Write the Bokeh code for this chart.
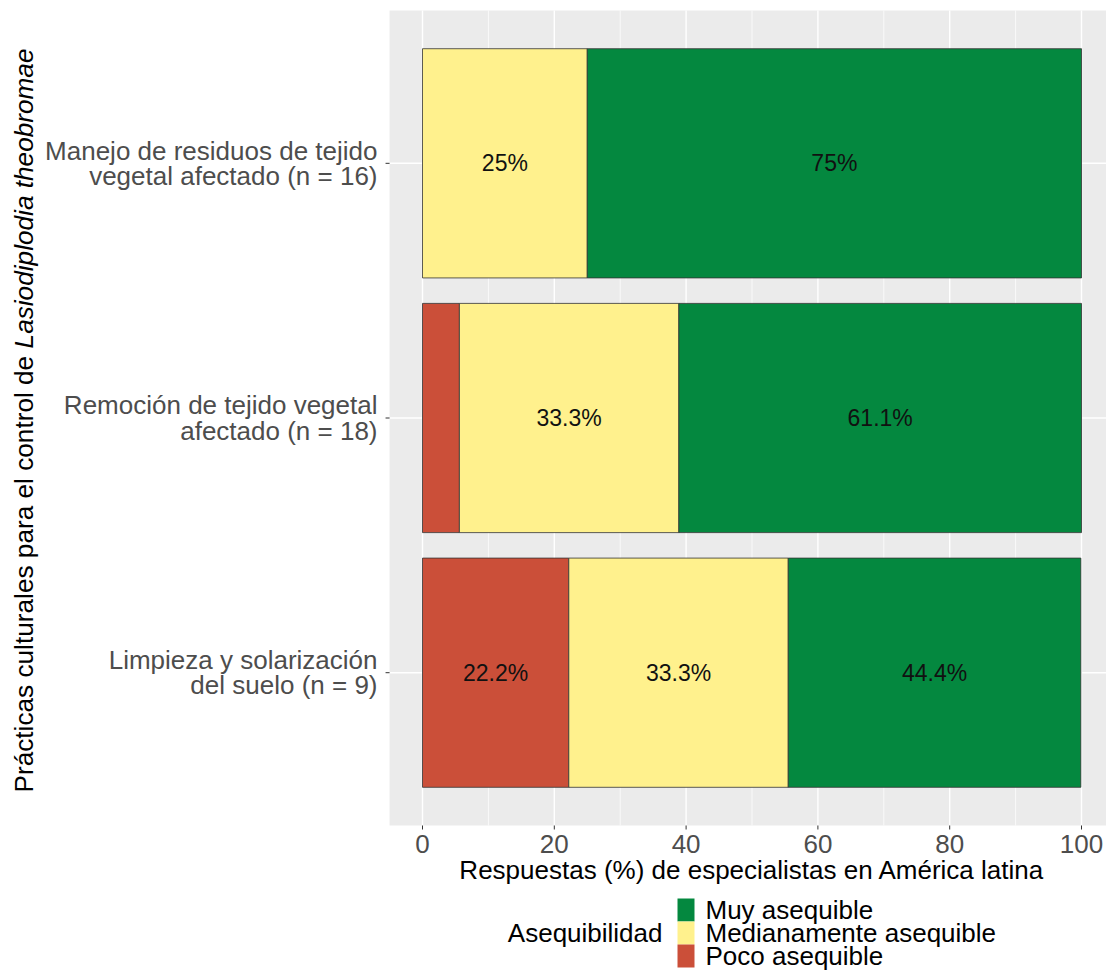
import math
from bokeh.plotting import figure
from bokeh.models import Range1d, ColumnDataSource
from bokeh.core.properties import value
from bokeh.embed import file_html
from bokeh.resources import INLINE

# ---------------- data ----------------
categorias = ["Manejo de residuos de tejido\nvegetal afectado (n = 16)",
              "Remoción de tejido vegetal\nafectado (n = 18)",
              "Limpieza y solarización\ndel suelo (n = 9)"]
poco = [0.0, 5.6, 22.2]
medianamente = [25.0, 33.3, 33.3]
muy = [75.0, 61.1, 44.4]
niveles = ["Muy asequible", "Medianamente asequible", "Poco asequible"]
colores = ["#04883F", "#FFF18D", "#CB4F39"]
x_major = [0, 20, 40, 60, 80, 100]
x_minor = [10, 30, 50, 70, 90]
x_title = "Respuestas (%) de especialistas en América latina"
y_title_normal = "Prácticas culturales para el control de"
y_title_italic = "Lasiodiplodia theobromae"
legend_title = "Asequibilidad"

FONT = "Liberation Sans"

# ---------------- layout (pixel <-> data) ----------------
W, H = 1106, 970
IMG_X0 = 422.0          # pixel of x = 0
PPX = 6.59              # pixels per x unit
n = len(categorias)
ypos = [n - i for i in range(n)]
y_lo, y_hi = min(ypos) - 0.6, max(ypos) + 0.6
PANEL_TOP, PANEL_BOTTOM = 10.0, 825.0
PPY = (PANEL_BOTTOM - PANEL_TOP) / (y_hi - y_lo)
Y_TOP = y_hi + PANEL_TOP / PPY


def dx(img_x):
    return (img_x - IMG_X0) / PPX


def dy(img_y):
    return Y_TOP - img_y / PPY


p = figure(width=W, height=H, x_range=Range1d(dx(0), dx(W)),
           y_range=Range1d(dy(H), dy(0)), x_axis_type=None, y_axis_type=None,
           output_backend="svg", toolbar_location=None,
           min_border=0, min_border_left=0, min_border_right=0,
           min_border_top=0, min_border_bottom=0)
p.outline_line_color = None
p.background_fill_color = "white"
p.border_fill_color = "white"
p.grid.visible = False

# ---------------- panel, grid, ticks ----------------
xmin, xmax = min(x_major), max(x_major)
x_lo = xmin - 0.05 * (xmax - xmin)
x_hi = xmax + 0.05 * (xmax - xmin)
p.quad(left=[x_lo], right=[x_hi], bottom=[y_lo], top=[y_hi],
       fill_color="#EBEBEB", line_color=None)
p.segment(x0=x_minor, x1=x_minor, y0=[y_lo] * len(x_minor), y1=[y_hi] * len(x_minor),
          line_color="white", line_width=0.7)
p.segment(x0=x_major, x1=x_major, y0=[y_lo] * len(x_major), y1=[y_hi] * len(x_major),
          line_color="white", line_width=1.4)
p.segment(x0=[x_lo] * n, x1=[x_hi] * n, y0=ypos, y1=ypos,
          line_color="white", line_width=1.4)
TICK = 4.0
p.segment(x0=x_major, x1=x_major, y0=[y_lo] * len(x_major),
          y1=[y_lo - TICK / PPY] * len(x_major), line_color="#333333", line_width=1)
p.segment(x0=[x_lo] * n, x1=[x_lo - TICK / PPX] * n, y0=ypos, y1=ypos,
          line_color="#333333", line_width=1)

# x tick labels
p.text(x=x_major, y=[dy(843)] * len(x_major), text=[f"{v:g}" for v in x_major],
       text_align="center", text_baseline="middle", text_font=value(FONT),
       text_font_size="26px", text_color="#4D4D4D")

# ---------------- bars ----------------
series = {"Poco asequible": poco, "Medianamente asequible": medianamente, "Muy asequible": muy}
color_of = dict(zip(niveles, colores))
left = [0.0] * n
for nivel in ["Poco asequible", "Medianamente asequible", "Muy asequible"]:
    vals = series[nivel]
    rows = [i for i in range(n) if vals[i] > 0]
    src = ColumnDataSource(dict(
        y=[ypos[i] for i in rows],
        left=[left[i] for i in rows],
        right=[left[i] + vals[i] for i in rows],
        mid=[left[i] + vals[i] / 2 for i in rows],
        lab=[f"{vals[i]:g}%" if vals[i] >= 10 else "" for i in rows],
    ))
    p.hbar(y="y", left="left", right="right", height=0.9, source=src,
           fill_color=color_of[nivel], line_color="#333333", line_width=0.8)
    p.text(x="mid", y="y", text="lab", source=src, text_align="center",
           text_baseline="middle", text_font=value(FONT), text_font_size="23px",
           text_color="#111111")
    for i in range(n):
        left[i] += vals[i]

# ---------------- y tick labels (multi-line) ----------------
LINE = 25.5
ty, tt = [], []
for i, cat in enumerate(categorias):
    lines = cat.split("\n")
    m = len(lines)
    for k, ln in enumerate(lines):
        off_px = (k - (m - 1) / 2) * LINE
        ty.append(ypos[i] - off_px / PPY)
        tt.append(ln)
p.text(x=[dx(377)] * len(tt), y=ty, text=tt, text_align="right",
       text_baseline="middle", text_font=value(FONT), text_font_size="26px",
       text_color="#4D4D4D")

# ---------------- axis titles ----------------
p.text(x=[(x_lo + x_hi) / 2], y=[dy(869)], text=[x_title], text_align="center",
       text_baseline="middle", text_font=value(FONT), text_font_size="26px",
       text_color="black")
p.text(x=[dx(23)], y=[dy(792)], text=[y_title_normal], angle=math.pi / 2,
       text_align="left", text_baseline="middle", text_font=value(FONT),
       text_font_size="26.2px", text_color="black")
p.text(x=[dx(23)], y=[dy(48)], text=[y_title_italic], angle=math.pi / 2,
       text_align="right", text_baseline="middle", text_font=value(FONT),
       text_font_style="italic", text_font_size="26.2px", text_color="black")

# ---------------- legend ----------------
KEY_H = 23.0
KEY_TOP = 898.0
k_idx = list(range(len(niveles)))
p.text(x=[dx(662)], y=[dy(KEY_TOP + KEY_H * len(niveles) / 2)], text=[legend_title],
       text_align="right", text_baseline="middle", text_font=value(FONT),
       text_font_size="26px", text_color="black")
p.quad(left=[dx(677)] * len(niveles), right=[dx(694)] * len(niveles),
       top=[dy(KEY_TOP + KEY_H * k) for k in k_idx],
       bottom=[dy(KEY_TOP + KEY_H * (k + 1)) for k in k_idx],
       fill_color=colores, line_color=None)
p.text(x=[dx(705)] * len(niveles), y=[dy(KEY_TOP + KEY_H * (k + 0.5)) for k in k_idx],
       text=niveles, text_align="left", text_baseline="middle",
       text_font=value(FONT), text_font_size="26px", text_color="black")

open("out.html", "w").write(file_html(p, INLINE))
